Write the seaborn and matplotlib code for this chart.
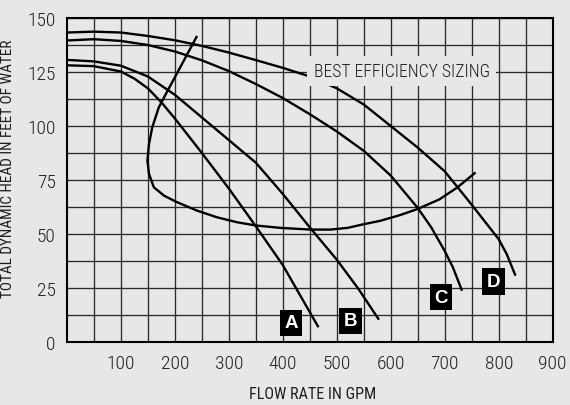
import numpy as np
import pandas as pd
import matplotlib
matplotlib.use("Agg")
import matplotlib.pyplot as plt
import seaborn as sns

# ---- data ----
a_flow = [0, 50, 100, 125, 150, 175, 200, 250, 300, 350, 400, 432, 466]
a_head = [128.2, 127.8, 125.3, 122.0, 117.5, 111.0, 103.5, 87.5, 71.0, 53.5, 35.5, 21.5, 6.7]

b_flow = [0, 50, 100, 150, 200, 250, 300, 350, 400, 450, 500, 540, 578]
b_head = [130.7, 130.0, 128.0, 123.0, 114.5, 104.0, 93.5, 83.0, 68.5, 53.0, 38.0, 24.5, 10.2]

c_flow = [0, 50, 100, 150, 200, 250, 300, 350, 400, 450, 500, 550, 600, 650, 675, 700, 715, 732]
c_head = [139.7, 140.3, 139.5, 137.6, 134.6, 130.5, 125.5, 119.5, 113.0, 105.5, 97.5, 88.5, 77.0, 62.0, 53.0, 42.0, 34.5, 23.6]

d_flow = [0, 50, 100, 150, 200, 250, 300, 350, 400, 450, 500, 550, 600, 650, 700, 750, 800, 815, 831]
d_head = [143.4, 143.8, 143.4, 141.8, 139.8, 137.2, 134.1, 130.6, 127.0, 123.0, 117.5, 110.0, 100.0, 90.0, 79.0, 63.5, 47.5, 40.5, 30.6]

eff_flow = [241, 220, 200, 183, 170, 158, 152, 149, 152, 161, 180, 204, 241, 278, 315, 350,
            395, 451, 488, 520, 550, 581, 618, 649, 690, 723, 757]
eff_head = [141.8, 132.0, 122.7, 114.8, 108.6, 99.4, 91.7, 84.0, 77.8, 71.6, 67.7, 64.7, 60.8, 57.7, 55.4, 53.9,
            52.8, 52.0, 52.0, 52.8, 54.5, 56.1, 58.8, 61.5, 66.0, 71.5, 78.5]

curve_names = ["A", "B", "C", "D"]
label_flow = [415, 526, 693, 790]
label_head = [8.8, 9.7, 20.7, 27.9]

x_ticks = [100, 200, 300, 400, 500, 600, 700, 800, 900]
x_tick_labels = ["100", "200", "300", "400", "500", "600", "700", "800", "900"]
y_ticks = [0, 25, 50, 75, 100, 125, 150]
y_tick_labels = ["0", "25", "50", "75", "100", "125", "150"]

eff_text = "BEST EFFICIENCY SIZING"
x_title = "FLOW RATE IN GPM"
y_title = "TOTAL DYNAMIC HEAD IN FEET OF WATER"

# ---- build tidy table ----
frames = []
for name, fx, hy in [("A", a_flow, a_head), ("B", b_flow, b_head),
                     ("C", c_flow, c_head), ("D", d_flow, d_head),
                     ("EFF", eff_flow, eff_head)]:
    frames.append(pd.DataFrame({"flow": fx, "head": hy, "curve": name}))
df = pd.concat(frames, ignore_index=True)

bg = "#e6e7e8"
txt = "#1e1e1e"
sns.set_theme(style="white")
plt.rcParams["font.family"] = ["Roboto Condensed", "DejaVu Sans"]
plt.rcParams["font.weight"] = 300

fig = plt.figure(figsize=(5.7, 4.06), dpi=100, facecolor=bg)
ax = fig.add_axes([0.1175, 0.1559, 0.8522, 0.7966])
ax.set_facecolor(bg)

for name, sub in df.groupby("curve", sort=False):
    sns.lineplot(data=sub, x="flow", y="head", sort=False, estimator=None,
                 color="black", linewidth=1.7, ax=ax, legend=False,
                 solid_joinstyle="round", solid_capstyle="butt", zorder=3)

ax.set_xlim(0, 900)
ax.set_ylim(0, 150)

ax.set_xticks(np.arange(50, 900, 50), minor=True)
ax.set_yticks(np.arange(12.5, 150, 12.5), minor=True)
ax.set_xticks(x_ticks)
ax.set_xticklabels(x_tick_labels)
ax.set_yticks(y_ticks)
ax.set_yticklabels(y_tick_labels)
ax.tick_params(which="both", length=0, labelsize=14, labelcolor=txt)
ax.tick_params(axis="x", pad=9)
ax.tick_params(axis="y", pad=8)
ax.grid(True, which="both", color="#2a2a2a", linewidth=0.95)
ax.set_axisbelow(True)

for s in ax.spines.values():
    s.set_visible(True)
    s.set_color("black")
    s.set_linewidth(1.5)

ax.set_xlabel(x_title, fontsize=11.6, color=txt)
ax.set_ylabel(y_title, fontsize=11, color=txt)
ax.xaxis.set_label_coords(0.506, -0.138)
ax.yaxis.set_label_coords(-0.107, 0.537)

ax.text(620, 125.6, eff_text, fontsize=12.7, color=txt, ha="center", va="center",
        zorder=4, bbox=dict(boxstyle="square,pad=0.35", fc=bg, ec="none"))

for name, lx, ly in zip(curve_names, label_flow, label_head):
    ax.text(lx, ly, name, fontsize=13.5, fontweight="bold", color="white",
            family=["Liberation Sans", "DejaVu Sans"],
            ha="center", va="center", zorder=5,
            bbox=dict(boxstyle="square,pad=0.25", fc="black", ec="none"))

fig.savefig("out.png", dpi=100, facecolor=bg)
